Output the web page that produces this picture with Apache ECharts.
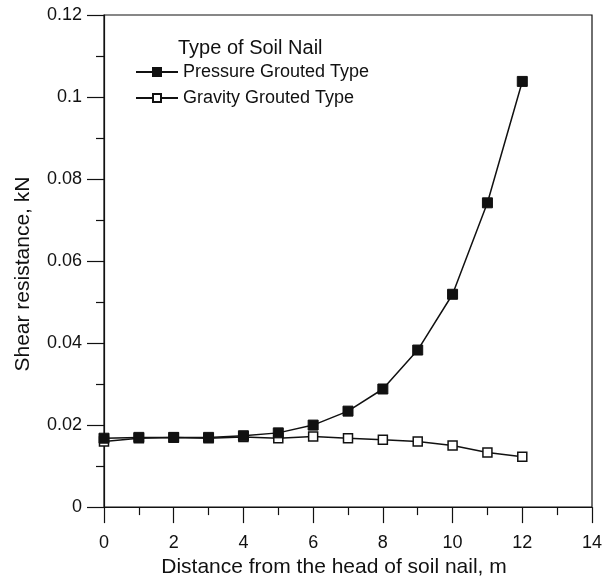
<!DOCTYPE html>
<html>
<head>
<meta charset="utf-8">
<script src="https://cdn.jsdelivr.net/npm/echarts@6/dist/echarts.min.js"></script>
<style>html,body{margin:0;padding:0;background:#fff}#c{width:611px;height:583px}</style>
</head>
<body>
<div id="c"></div>
<script>
const distances = [0, 1, 2, 3, 4, 5, 6, 7, 8, 9, 10, 11, 12];
const pressureGrouted = [0.0168, 0.0170, 0.0170, 0.0170, 0.0174, 0.0181, 0.0200, 0.0234, 0.0288, 0.0383, 0.0519, 0.0742, 0.1038];
const gravityGrouted = [0.0160, 0.0168, 0.0170, 0.0168, 0.0171, 0.0168, 0.0172, 0.0168, 0.0164, 0.0160, 0.0150, 0.0133, 0.0123];
const seriesNames = ['Pressure Grouted Type', 'Gravity Grouted Type'];
const legendTitle = 'Type of Soil Nail';
const xTitle = 'Distance from the head of soil nail, m';
const yTitle = 'Shear resistance, kN';

const font = 'Liberation Sans, Arial, sans-serif';
const chart = echarts.init(document.getElementById('c'), null, {renderer: 'canvas'});
const pair = arr => distances.map((d, i) => [d, arr[i]]);
chart.setOption({
  animation: false,
  backgroundColor: '#fff',
  grid: {left: 104, right: 19, top: 15, bottom: 73, show: true, borderColor: '#111', borderWidth: 1.2, backgroundColor: 'transparent'},
  graphic: [{type: 'text', left: 178, top: 38, style: {text: legendTitle, font: '20px ' + font, fill: '#111'}}],
  legend: {
    left: 130, top: 58, orient: 'vertical', itemWidth: 42, itemHeight: 10, itemGap: 8,
    textStyle: {fontFamily: font, fontSize: 18, color: '#111'},
    data: seriesNames
  },
  xAxis: {
    type: 'value', min: 0, max: 14, interval: 2,
    name: xTitle, nameLocation: 'middle', nameGap: 45,
    nameTextStyle: {fontFamily: font, fontSize: 21, color: '#111', padding: [0, 28, 0, 0]},
    axisLine: {onZero: false, lineStyle: {color: '#111', width: 1.2}},
    axisTick: {inside: false, length: 16, lineStyle: {color: '#111', width: 1.2}},
    minorTick: {show: true, splitNumber: 2, length: 8, lineStyle: {color: '#111', width: 1.2}},
    axisLabel: {fontFamily: font, fontSize: 18, color: '#111', margin: 27},
    splitLine: {show: false}
  },
  yAxis: {
    type: 'value', min: 0, max: 0.12, interval: 0.02,
    name: yTitle, nameLocation: 'middle', nameGap: 70,
    nameTextStyle: {fontFamily: font, fontSize: 21, color: '#111', padding: [0, 26, 0, 0]},
    axisLine: {onZero: false, lineStyle: {color: '#111', width: 1.2}},
    axisTick: {length: 17, lineStyle: {color: '#111', width: 1.2}},
    minorTick: {show: true, splitNumber: 2, length: 8, lineStyle: {color: '#111', width: 1.2}},
    axisLabel: {fontFamily: font, fontSize: 18, color: '#111', margin: 22},
    splitLine: {show: false}
  },
  series: [
    {
      name: seriesNames[0], type: 'line', data: pair(pressureGrouted),
      symbol: 'rect', symbolSize: 10, z: 3,
      lineStyle: {color: '#111', width: 1.5},
      itemStyle: {color: '#111', borderColor: '#111', borderWidth: 1}
    },
    {
      name: seriesNames[1], type: 'line', data: pair(gravityGrouted),
      symbol: 'rect', symbolSize: 9, z: 2,
      lineStyle: {color: '#111', width: 1.5},
      itemStyle: {color: '#fff', borderColor: '#111', borderWidth: 1.5}
    }
  ]
});
</script>
</body>
</html>
